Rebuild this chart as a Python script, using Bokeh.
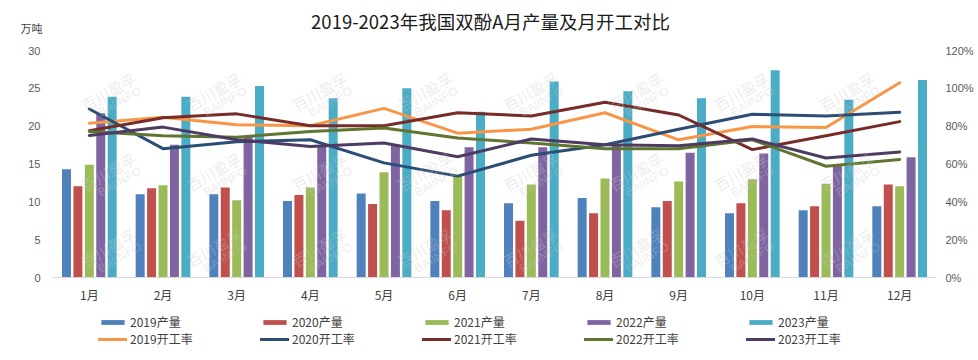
from bokeh.plotting import figure
from bokeh.layouts import column
from bokeh.models import (Range1d, LinearAxis, FactorRange, Legend, LegendItem,
                          FixedTicker, PrintfTickFormatter, Label, ColumnDataSource)
from bokeh.transform import dodge
from bokeh.embed import file_html
from bokeh.resources import INLINE

months = ["1月", "2月", "3月", "4月", "5月", "6月", "7月", "8月", "9月", "10月", "11月", "12月"]
years = ["2019", "2020", "2021", "2022", "2023"]

# 月产量（万吨）
output_2019 = [14.3, 11.0, 11.0, 10.1, 11.1, 10.1, 9.8, 10.5, 9.3, 8.5, 8.9, 9.4]
output_2020 = [12.05, 11.8, 11.9, 10.9, 9.7, 8.9, 7.5, 8.5, 10.1, 9.8, 9.4, 12.3]
output_2021 = [14.9, 12.2, 10.2, 11.9, 13.9, 13.4, 12.3, 13.1, 12.7, 13.0, 12.4, 12.05]
output_2022 = [21.7, 17.55, 18.7, 17.3, 17.5, 17.2, 17.2, 17.5, 16.5, 16.4, 14.9, 15.9]
output_2023 = [23.9, 23.9, 25.3, 23.7, 25.0, 21.9, 25.9, 24.6, 23.7, 27.4, 23.5, 26.1]

# 月开工率（%）
rate_2019 = [81.6, 84.7, 80.7, 80.2, 89.4, 76.3, 78.4, 87.1, 72.8, 79.8, 79.3, 103.0]
rate_2020 = [89.1, 68.1, 71.8, 72.8, 60.6, 53.6, 64.6, 70.2, 78.4, 86.3, 85.4, 87.3]
rate_2021 = [77.6, 84.5, 86.5, 80.2, 80.2, 87.1, 85.4, 92.6, 85.9, 67.6, 74.9, 82.4]
rate_2022 = [77.2, 74.9, 74.2, 77.2, 79.0, 73.7, 71.1, 68.1, 68.1, 72.8, 58.8, 62.4]
rate_2023 = [75.1, 79.5, 72.8, 69.3, 71.1, 63.8, 73.2, 70.2, 69.7, 73.2, 63.2, 66.4]

left_ticks = [0, 5, 10, 15, 20, 25, 30]
right_ticks = [0, 20, 40, 60, 80, 100, 120]

title_text = "2019-2023年我国双酚A月产量及月开工对比"
unit_text = "万吨"

bar_colors = ["#4F81BD", "#C0504D", "#9BBB59", "#8064A2", "#4BACC6"]
line_colors = ["#F79646", "#2C4D75", "#772C2A", "#5F7530", "#4D3B62"]

outputs = [output_2019, output_2020, output_2021, output_2022, output_2023]
rates = [rate_2019, rate_2020, rate_2021, rate_2022, rate_2023]

data = {"month": months}
for y, o, r in zip(years, outputs, rates):
    data["o" + y] = o
    data["r" + y] = r
src = ColumnDataSource(data)

CJK = "Noto Sans CJK SC"
NUM = "Liberation Sans"
W = 976
FRAME_LEFT = 52


def strip_figure(h):
    f = figure(width=W, height=h, x_range=Range1d(0, 1), y_range=Range1d(0, 1),
               output_backend="svg", toolbar_location=None,
               x_axis_location=None, y_axis_location=None,
               min_border_left=0, min_border_right=0, min_border_top=0, min_border_bottom=0)
    f.outline_line_color = None
    f.xgrid.visible = False
    f.ygrid.visible = False
    x0 = 0
    try:
        f.frame_align = False
    except Exception:
        x0 = FRAME_LEFT
    return f, x0


# ---------- header (title + unit) ----------
head, hx0 = strip_figure(40)
head.add_layout(Label(x=490 - hx0, y=20, x_units="screen", y_units="screen", text=title_text,
                      text_align="center", text_baseline="middle", text_font=CJK,
                      text_font_size="18.5px", text_color="#1a1a1a"))
head.add_layout(Label(x=31 - hx0, y=13, x_units="screen", y_units="screen", text=unit_text,
                      text_align="center", text_baseline="middle", text_font=CJK,
                      text_font_size="11px", text_color="#404040"))

# ---------- main chart ----------
p = figure(width=W, height=265, x_range=FactorRange(*months), y_range=Range1d(0, 30),
           output_backend="svg", toolbar_location=None,
           min_border_left=FRAME_LEFT, min_border_right=37, min_border_top=10, min_border_bottom=26)
p.outline_line_color = None
p.xgrid.visible = False
p.ygrid.visible = False

p.extra_y_ranges = {"rate": Range1d(0, 120)}

xa = p.xaxis[0]
xa.axis_line_color = "#D9D9D9"
xa.axis_line_width = 1
xa.major_tick_line_color = None
xa.minor_tick_line_color = None
xa.major_tick_out = 0
xa.major_tick_in = 0
xa.major_label_standoff = 8
xa.major_label_text_font = CJK
xa.major_label_text_font_size = "12px"
xa.major_label_text_color = "#404040"

ya = p.yaxis[0]
ya.ticker = FixedTicker(ticks=left_ticks)
ya.axis_line_color = None
ya.major_tick_line_color = None
ya.minor_tick_line_color = None
ya.major_tick_out = 0
ya.major_tick_in = 0
ya.major_label_standoff = 12
ya.major_label_text_font = NUM
ya.major_label_text_font_size = "11px"
ya.major_label_text_color = "#595959"

ra = LinearAxis(y_range_name="rate", ticker=FixedTicker(ticks=right_ticks),
                formatter=PrintfTickFormatter(format="%d%%"))
ra.axis_line_color = None
ra.major_tick_line_color = None
ra.minor_tick_line_color = None
ra.major_tick_out = 0
ra.major_tick_in = 0
ra.major_label_standoff = 9
ra.major_label_text_font = NUM
ra.major_label_text_font_size = "11px"
ra.major_label_text_color = "#595959"
p.add_layout(ra, "right")

# watermarks (screen units, relative to plot frame)
for row_y in [186, 106, 30]:
    for k in range(8):
        sx = 56 + 105.5 * k
        p.add_layout(Label(x=sx, y=row_y, x_units="screen", y_units="screen", text="百川盈孚",
                           angle=30, angle_units="deg", text_align="center", text_baseline="middle",
                           text_font=CJK, text_font_size="15px", text_color="#C8C8C8", text_alpha=0.35))
        p.add_layout(Label(x=sx + 11, y=row_y - 10, x_units="screen", y_units="screen", text="BAIINFO",
                           angle=30, angle_units="deg", text_align="center", text_baseline="middle",
                           text_font=NUM, text_font_size="12px", text_color="#C8C8C8", text_alpha=0.35))

offsets = [-0.31, -0.155, 0.0, 0.155, 0.31]
for y, off, c in zip(years, offsets, bar_colors):
    p.vbar(x=dodge("month", off, range=p.x_range), top="o" + y, width=0.122,
           source=src, fill_color=c, line_color=None)

for y, c in zip(years, line_colors):
    p.line(x="month", y="r" + y, source=src, y_range_name="rate",
           line_color=c, line_width=3, line_join="round", line_cap="round")

# ---------- legend strip ----------
leg, lx0 = strip_figure(50)
items = []
for y, c in zip(years, bar_colors):
    r = leg.vbar(x=[-5], top=[-5], width=0.1, fill_color=c, line_color=None)
    items.append(LegendItem(label=y + "产量", renderers=[r]))
for y, c in zip(years, line_colors):
    r = leg.line(x=[-5, -4], y=[-5, -5], line_color=c, line_width=3, line_cap="round")
    items.append(LegendItem(label=y + "开工率", renderers=[r]))
legend = Legend(items=items, orientation="horizontal", ncols=5, location=(98 - lx0, 8),
                glyph_width=29, glyph_height=6, label_standoff=3, label_width=130,
                label_height=16, spacing=0, padding=0, margin=0,
                label_text_font=CJK, label_text_font_size="12px", label_text_color="#404040",
                border_line_color=None, background_fill_alpha=0)
leg.add_layout(legend)

layout = column(head, p, leg, spacing=0)
open("out.html", "w").write(file_html(layout, INLINE))
